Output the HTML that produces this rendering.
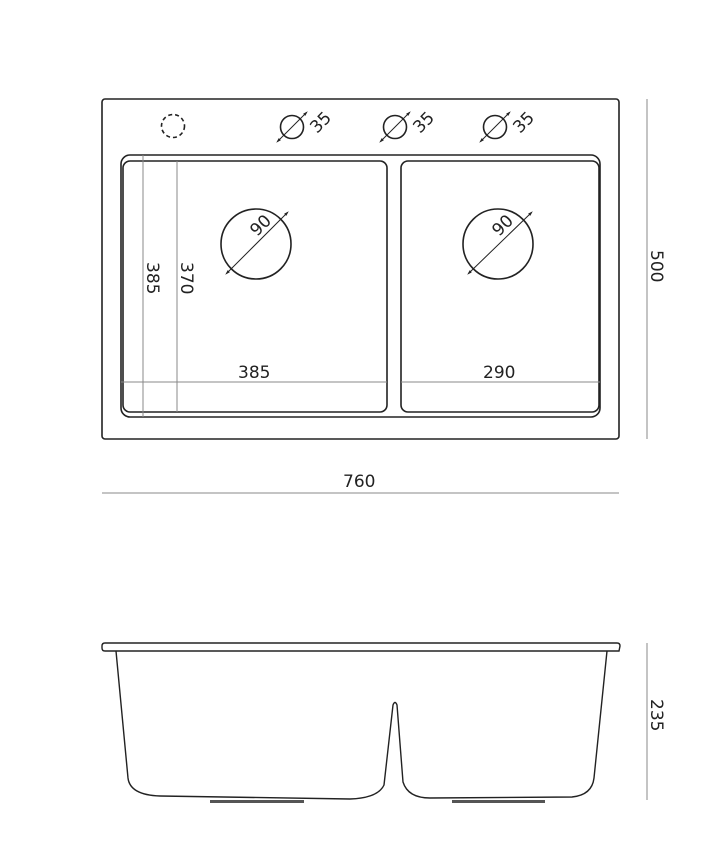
<!DOCTYPE html>
<html><head><style>html,body{margin:0;padding:0;background:#fff}svg{display:block}text{font-family:"DejaVu Sans","Liberation Sans",sans-serif;font-size:17px;fill:#222}</style></head><body>
<svg width="714" height="861" viewBox="0 0 714 861" xmlns="http://www.w3.org/2000/svg">
<defs><marker id="a" viewBox="0 0 10 10" refX="5" refY="5" markerWidth="5" markerHeight="5" orient="auto-start-reverse"><path d="M0,2 L10,5 L0,8z" fill="#222"/></marker></defs>
<g fill="none" stroke="#222" stroke-width="1.6">
<rect x="102" y="99" width="517" height="340" rx="3"/>
<rect x="121" y="155" width="479" height="262" rx="9"/>
<rect x="123" y="161" width="264" height="251" rx="7" fill="#fff"/>
<rect x="401" y="161" width="198" height="251" rx="7" fill="#fff"/>
<circle cx="173" cy="126" r="11.5" stroke-dasharray="4,3"/>
<circle cx="292" cy="127" r="11.5"/><circle cx="395" cy="127" r="11.5"/><circle cx="495" cy="127" r="11.5"/>
<circle cx="256" cy="244" r="35"/><circle cx="498" cy="244" r="35"/>
</g>
<g stroke="#888" stroke-width="1">
<line x1="143" y1="155" x2="143" y2="417"/><line x1="177" y1="161" x2="177" y2="412"/>
<line x1="121" y1="382" x2="387" y2="382"/><line x1="401" y1="382" x2="600" y2="382"/>
<line x1="647" y1="99" x2="647" y2="439"/><line x1="102" y1="493" x2="619" y2="493"/>
<line x1="647" y1="643" x2="647" y2="800"/>
</g>
<g stroke="#222" stroke-width="1" marker-start="url(#a)" marker-end="url(#a)">
<line x1="278" y1="141" x2="306" y2="113"/><line x1="381" y1="141" x2="409" y2="113"/><line x1="481" y1="141" x2="509" y2="113"/>
<line x1="227" y1="273" x2="287" y2="213"/><line x1="469" y1="273" x2="531" y2="213"/>
</g>
<text transform="translate(317,134) rotate(-45)">35</text>
<text transform="translate(420,134) rotate(-45)">35</text>
<text transform="translate(520,134) rotate(-45)">35</text>
<text transform="translate(257,237) rotate(-45)">90</text>
<text transform="translate(499,237) rotate(-45)">90</text>
<text transform="translate(147,262) rotate(90)">385</text>
<text transform="translate(181,262) rotate(90)">370</text>
<text transform="translate(651,250) rotate(90)">500</text>
<text transform="translate(651,699) rotate(90)">235</text>
<text x="238" y="378">385</text><text x="483" y="378">290</text><text x="343" y="487">760</text>
<g fill="none" stroke="#222" stroke-width="1.4">
<path d="M105,643 L617,643 Q620,643 620,646 L619,651 L105,651 Q102,651 102,648 L102,646 Q102,643 105,643z"/>
<path d="M116,651 L128,778 Q130,795 160,796 L350,799 Q378,798 384,785 L393,705 Q395,700 397,705 L403,782 Q408,798 430,798 L572,797 Q592,795 594,778 L607,651"/>
</g>
<rect x="210" y="800" width="94" height="3" fill="#555"/><rect x="452" y="800" width="93" height="3" fill="#555"/>
</svg>
</body></html>
